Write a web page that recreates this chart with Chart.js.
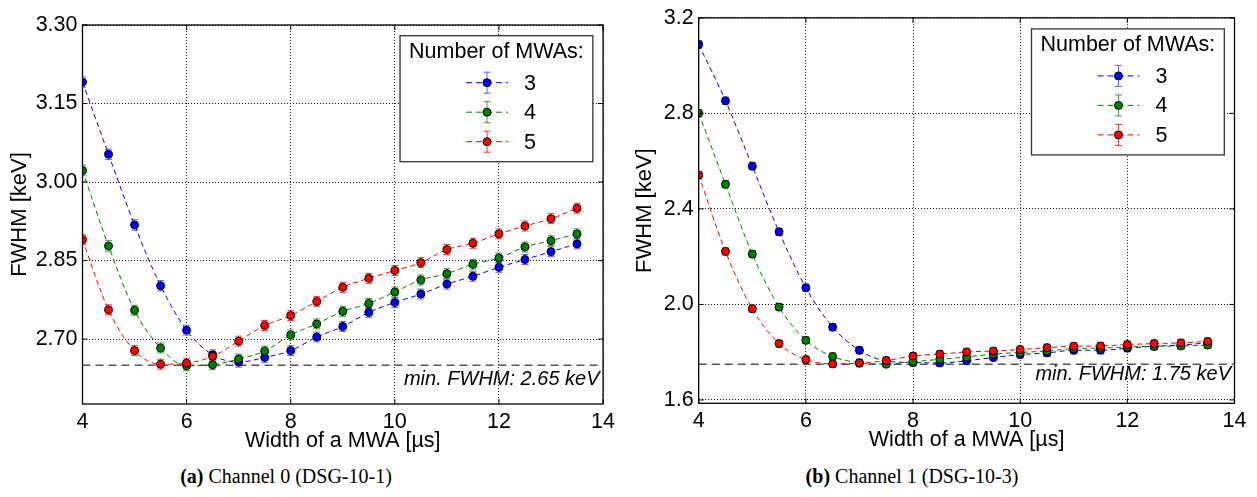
<!DOCTYPE html>
<html><head><meta charset="utf-8">
<script src="https://cdn.jsdelivr.net/npm/chart.js@4.4.1/dist/chart.umd.min.js"></script>
<style>
html,body{margin:0;padding:0;background:#fff;width:1257px;height:497px;overflow:hidden;position:relative}
canvas{position:absolute;top:0}
#c0{left:0}
#c1{left:625px}
.cap{position:absolute;font-family:"Liberation Serif","Times New Roman",serif;font-size:20px;color:#000;white-space:nowrap;transform:translate(-50%,-50%);top:476px}
</style></head><body>
<canvas id="c0" width="620" height="460"></canvas>
<canvas id="c1" width="632" height="460"></canvas>
<div class="cap" style="left:286px"><b>(a)</b> Channel 0 (DSG-10-1)</div>
<div class="cap" style="left:912px"><b>(b)</b> Channel 1 (DSG-10-3)</div>
<script>
// ---- data ----
const widths = [4,4.5,5,5.5,6,6.5,7,7.5,8,8.5,9,9.5,10,10.5,11,11.5,12,12.5,13,13.5];
const seriesLabels = ['3','4','5'];
const xTicks = [4,6,8,10,12,14];
const ch0Ticks = [2.70,2.85,3.00,3.15,3.30];
const ch1Ticks = [1.6,2.0,2.4,2.8,3.2];
const ch0Min = 2.65;
const ch1Min = 1.75;

const ch0Mwa3 = [3.191,3.053,2.918,2.802,2.717,2.670,2.656,2.665,2.678,2.704,2.724,2.751,2.770,2.786,2.805,2.820,2.837,2.852,2.867,2.882];
const ch0Mwa4 = [3.022,2.878,2.755,2.683,2.649,2.651,2.662,2.677,2.708,2.729,2.753,2.768,2.790,2.813,2.825,2.843,2.855,2.876,2.888,2.901];
const ch0Mwa5 = [2.890,2.756,2.678,2.652,2.654,2.667,2.696,2.726,2.745,2.772,2.799,2.816,2.831,2.846,2.871,2.883,2.901,2.916,2.930,2.950];
const ch0Err3 = [0.010,0.010,0.010,0.010,0.0095,0.0095,0.0095,0.0095,0.0095,0.0095,0.0095,0.0095,0.0095,0.0095,0.0095,0.0095,0.0095,0.0095,0.0095,0.0095];
const ch0Err4 = [0.010,0.010,0.0095,0.0095,0.0095,0.0095,0.0095,0.0095,0.0095,0.0095,0.0095,0.0095,0.0095,0.0095,0.0095,0.0095,0.0095,0.0095,0.0095,0.0095];
const ch0Err5 = [0.0095,0.0095,0.0095,0.0095,0.0095,0.0095,0.0095,0.0095,0.0095,0.0095,0.0095,0.0095,0.0095,0.0095,0.0095,0.0095,0.0095,0.0095,0.0095,0.0095];

const ch1Mwa3 = [3.089,2.853,2.579,2.304,2.070,1.905,1.808,1.763,1.757,1.755,1.764,1.778,1.790,1.797,1.808,1.808,1.817,1.825,1.830,1.839];
const ch1Mwa4 = [2.801,2.503,2.211,1.989,1.850,1.782,1.756,1.750,1.760,1.770,1.780,1.792,1.799,1.805,1.815,1.817,1.822,1.825,1.826,1.830];
const ch1Mwa5 = [2.542,2.222,1.982,1.836,1.769,1.751,1.754,1.765,1.784,1.792,1.801,1.805,1.811,1.819,1.825,1.826,1.832,1.836,1.839,1.845];
const ch1Err3 = [0.015,0.015,0.015,0.015,0.015,0.015,0.015,0.015,0.015,0.015,0.015,0.015,0.015,0.015,0.015,0.015,0.015,0.015,0.015,0.015];
const ch1Err4 = [0.015,0.015,0.015,0.015,0.015,0.015,0.015,0.015,0.015,0.015,0.015,0.015,0.015,0.015,0.015,0.015,0.015,0.015,0.015,0.015];
const ch1Err5 = [0.015,0.015,0.015,0.015,0.015,0.015,0.015,0.015,0.015,0.015,0.015,0.015,0.015,0.015,0.015,0.015,0.015,0.015,0.015,0.015];

// ---- styles ----
const colors = ['#0000ff','#008000','#ff0000'];
const errColors = ['rgba(60,60,255,0.8)','rgba(0,128,0,0.75)','rgba(255,30,30,0.9)'];
const FONT = '"Liberation Sans", Arial, Helvetica, sans-serif';
Chart.defaults.font.family = FONT;
Chart.defaults.color = '#000';

const extras = {
  id: 'extras',
  beforeDatasetsDraw(chart) {
    const {ctx, chartArea: a, scales: {x, y}} = chart;
    ctx.save();
    ctx.beginPath(); ctx.rect(a.left, a.top, a.right - a.left, a.bottom - a.top); ctx.clip();
    chart.data.datasets.forEach(ds => {
      if (!ds.errors) return;
      ctx.strokeStyle = ds.errColor; ctx.lineWidth = 1;
      ds.data.forEach((p, j) => {
        const px = x.getPixelForValue(p.x);
        const t = y.getPixelForValue(p.y + ds.errors[j]);
        const b = y.getPixelForValue(p.y - ds.errors[j]);
        ctx.beginPath();
        ctx.moveTo(px, t); ctx.lineTo(px, b);
        ctx.moveTo(px - 3.5, t); ctx.lineTo(px + 3.5, t);
        ctx.moveTo(px - 3.5, b); ctx.lineTo(px + 3.5, b);
        ctx.stroke();
      });
    });
    ctx.restore();
  },
  afterDatasetsDraw(chart, args, opts) {
    const {ctx, chartArea: a, scales: {x, y}} = chart;
    ctx.save();
    // min text
    ctx.font = 'italic 20px ' + FONT;
    ctx.fillStyle = '#000'; ctx.textAlign = 'right'; ctx.textBaseline = 'middle';
    ctx.fillText(opts.minText, a.right - 3.5, y.getPixelForValue(opts.minValue) + opts.minTextOffset);
    // frame
    ctx.strokeStyle = '#000'; ctx.lineWidth = 1.3;
    ctx.strokeRect(a.left, a.top, a.right - a.left, a.bottom - a.top);
    ctx.lineWidth = 1;
    ctx.beginPath();
    x.ticks.forEach(t => {
      const px = x.getPixelForValue(t.value);
      ctx.moveTo(px, a.bottom); ctx.lineTo(px, a.bottom - 5);
      ctx.moveTo(px, a.top); ctx.lineTo(px, a.top + 5);
    });
    y.ticks.forEach(t => {
      const py = y.getPixelForValue(t.value);
      ctx.moveTo(a.left, py); ctx.lineTo(a.left + 5, py);
      ctx.moveTo(a.right, py); ctx.lineTo(a.right - 5, py);
    });
    ctx.stroke();
    // legend
    ctx.font = '21.5px ' + FONT;
    const title = opts.legendTitle;
    const tw = ctx.measureText(title).width;
    const bw = tw + 18, bh = 126;
    const bx = a.right - 10.2 - bw, by = a.top + opts.legendTop;
    ctx.fillStyle = '#fff'; ctx.fillRect(bx, by, bw, bh);
    ctx.strokeStyle = '#333'; ctx.lineWidth = 1.3; ctx.strokeRect(bx, by, bw, bh);
    ctx.fillStyle = '#000'; ctx.textAlign = 'center'; ctx.textBaseline = 'middle';
    ctx.fillText(title, bx + bw / 2, by + 16.5);
    const series = chart.data.datasets.filter(d => d.errors);
    series.forEach((ds, i) => {
      const cy = by + 47 + i * 29.5;
      const mx = bx + 87;
      ctx.strokeStyle = ds.borderColor; ctx.lineWidth = 1; ctx.setLineDash([6, 4]);
      ctx.beginPath(); ctx.moveTo(mx - 21, cy); ctx.lineTo(mx + 21, cy); ctx.stroke();
      ctx.setLineDash([]);
      ctx.strokeStyle = ds.errColor;
      ctx.beginPath();
      ctx.moveTo(mx, cy - 10.5); ctx.lineTo(mx, cy + 10.5);
      ctx.moveTo(mx - 3.5, cy - 10.5); ctx.lineTo(mx + 3.5, cy - 10.5);
      ctx.moveTo(mx - 3.5, cy + 10.5); ctx.lineTo(mx + 3.5, cy + 10.5);
      ctx.stroke();
      ctx.beginPath(); ctx.arc(mx, cy, 4, 0, Math.PI * 2);
      ctx.fillStyle = ds.backgroundColor; ctx.fill();
      ctx.strokeStyle = '#000'; ctx.stroke();
      ctx.fillStyle = '#000'; ctx.textAlign = 'left';
      ctx.fillText(ds.label, mx + 37, cy + 1);
    });
    ctx.restore();
  }
};

function makeChart(id, series, errs, ticks, yMin, yMax, decimals, minVal, cfg) {
  const datasets = series.map((vals, i) => ({
    label: seriesLabels[i],
    data: widths.map((w, j) => ({x: w, y: vals[j]})),
    errors: errs[i],
    errColor: errColors[i],
    borderColor: colors[i],
    backgroundColor: colors[i],
    pointBackgroundColor: colors[i],
    pointBorderColor: '#000',
    pointBorderWidth: 1,
    pointRadius: 4,
    borderWidth: 1,
    borderDash: [5, 3.5],
    cubicInterpolationMode: 'monotone',
    order: 3 - i
  }));
  datasets.push({
    label: 'min',
    data: [{x: xTicks[0], y: minVal}, {x: xTicks[xTicks.length - 1], y: minVal}],
    borderColor: '#555', borderWidth: 1.5, borderDash: [8, 5], pointRadius: 0, order: 10
  });
  return new Chart(document.getElementById(id), {
    type: 'line',
    data: {datasets},
    plugins: [extras],
    options: {
      responsive: false, animation: false, devicePixelRatio: 1,
      layout: {padding: cfg.padding},
      plugins: {
        legend: {display: false}, tooltip: {enabled: false},
        extras: {minText: cfg.minText, minValue: minVal, minTextOffset: cfg.minTextOffset,
                 legendTitle: 'Number of MWAs:', legendTop: cfg.legendTop}
      },
      scales: {
        x: {
          type: 'linear', min: xTicks[0], max: xTicks[xTicks.length - 1],
          afterBuildTicks: ax => { ax.ticks = xTicks.map(v => ({value: v})); },
          afterFit: ax => { ax.height = 50; },
          grid: {color: '#111', lineWidth: 1, drawTicks: false},
          border: {display: false, dash: [1, 2]},
          ticks: {padding: 5, font: {size: 21.5}, color: '#000', maxRotation: 0,
                  callback: v => String(v)},
          title: {display: true, text: 'Width of a MWA [µs]', font: {size: 21.5}, color: '#000',
                  padding: {top: 0, bottom: 0}}
        },
        y: {
          type: 'linear', min: yMin, max: yMax,
          afterBuildTicks: ax => { ax.ticks = ticks.map(v => ({value: v})); },
          afterFit: ax => { ax.width = cfg.yWidth; },
          grid: {color: '#111', lineWidth: 1, drawTicks: false},
          border: {display: false, dash: [1, 2]},
          ticks: {padding: 5, font: {size: 21.5}, color: '#000',
                  callback: v => Number(v).toFixed(decimals)},
          title: {display: true, text: 'FWHM [keV]', font: {size: 22}, color: '#000',
                  padding: {top: 7, bottom: 0}}
        }
      }
    }
  });
}

makeChart('c0', [ch0Mwa3, ch0Mwa4, ch0Mwa5], [ch0Err3, ch0Err4, ch0Err5], ch0Ticks,
  2.576, 3.30, 2, ch0Min,
  {padding: {left: 0, top: 25, right: 12.5, bottom: 6}, yWidth: 82.5,
   minText: 'min. FWHM: 2.65 keV', minTextOffset: 14.3, legendTop: 10.7});
makeChart('c1', [ch1Mwa3, ch1Mwa4, ch1Mwa5], [ch1Err3, ch1Err4, ch1Err5], ch1Ticks,
  1.586, 3.2, 1, ch1Min,
  {padding: {left: 0, top: 15.7, right: 22.5, bottom: 6.7}, yWidth: 73.7,
   minText: 'min. FWHM: 1.75 keV', minTextOffset: 10.7, legendTop: 11});
</script>
</body></html>
